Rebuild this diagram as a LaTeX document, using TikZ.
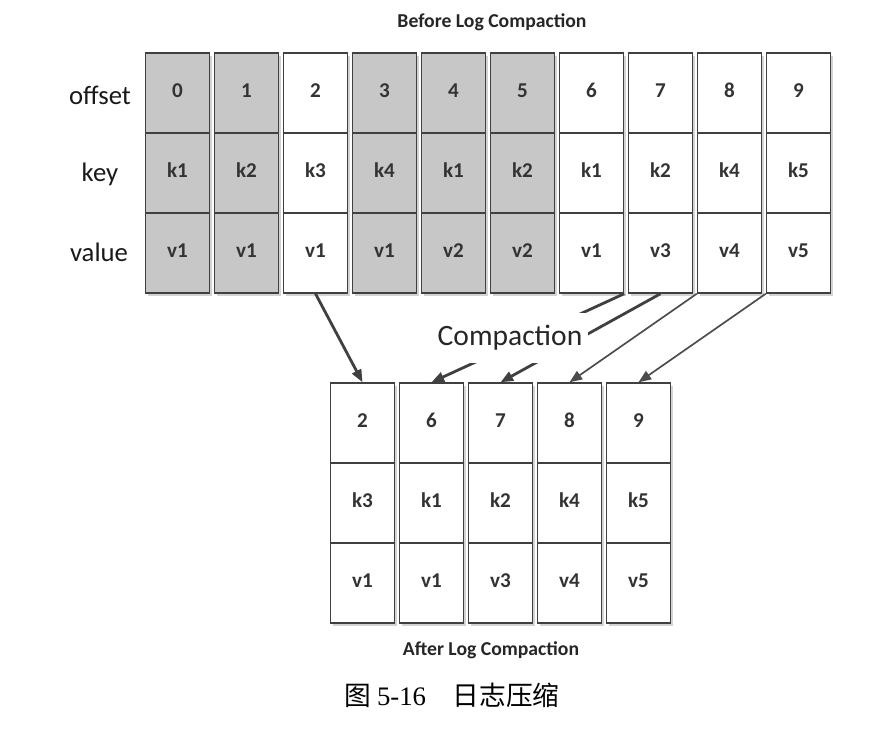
\documentclass[tikz,border=0pt]{standalone}
\usepackage{fontspec}
\setmainfont{Carlito}
\newfontfamily\cjk{Noto Sans CJK SC}
\newfontfamily\capnum{Liberation Serif}
\usetikzlibrary{arrows.meta,shadows,positioning}

\begin{document}
\begin{tikzpicture}[x=0.025cm,y=-0.025cm,
	cell/.style={draw=black!75, line width=1pt, minimum width=1.6cm, minimum height=2cm, inner sep=0pt,
		text height=1.5ex, text depth=0.2ex,
		font=\fontsize{15pt}{17pt}\selectfont\bfseries, text=black!80,
		drop shadow={opacity=0.35, shadow xshift=1.5pt, shadow yshift=-2pt}},
	old/.style={cell, fill=black!22},
	kept/.style={cell, fill=white},
	rowlbl/.style={font=\fontsize{19pt}{22pt}\selectfont, text=black!90},
	title/.style={font=\fontsize{14pt}{16pt}\selectfont\bfseries, text=black!85},
	conn/.style={draw=black!75, line width=2pt, -{Triangle[length=9pt,width=7pt]}},
	thinconn/.style={draw=black!70, line width=1.2pt, -{Triangle[length=9pt,width=7pt]}}]
	
	% 画布大小
	\useasboundingbox (0,0) rectangle (880,736);
	
	% 压缩前的日志
	\node[title] (before) at (492,22) {Before Log Compaction};
	\foreach \o/\k/\v/\st [count=\i from 0] in {0/k1/v1/old, 1/k2/v1/old, 2/k3/v1/kept, 3/k4/v1/old, 4/k1/v2/old,
		5/k2/v2/old, 6/k1/v1/kept, 7/k2/v3/kept, 8/k4/v4/kept, 9/k5/v5/kept}{
		\node[\st] (to\i) at (177.5+69*\i,93) {\o}; % offset 行
		\node[\st] (tk\i) at (177.5+69*\i,173) {\k}; % key 行
		\node[\st] (tv\i) at (177.5+69*\i,253) {\v}; % value 行
	}
	
	% 行标题
	\node[rowlbl] (lbl-offset) at (100,95) {offset};
	\node[rowlbl] (lbl-key) at (100,174) {key};
	\node[rowlbl] (lbl-value) at (99,252) {value};
	
	% 压缩后的日志
	\foreach \o/\k/\v [count=\j from 0] in {2/k3/v1, 6/k1/v1, 7/k2/v3, 8/k4/v4, 9/k5/v5}{
		\node[kept] (bo\j) at (362.5+69*\j,423) {\o};
		\node[kept] (bk\j) at (362.5+69*\j,503) {\k};
		\node[kept] (bv\j) at (362.5+69*\j,583) {\v};
	}
	\node[title] (after) at (491,650) {After Log Compaction};
	
	% 箭头
	\draw[conn] (tv2.south) -- (bo0.north);
	\draw[conn] (tv6.south east) -- (bo1.north);
	\draw[conn] (tv7.south) -- (bo2.north);
	\draw[thinconn] (tv8.south west) -- (bo3.north);
	\draw[thinconn] (tv9.south west) -- (bo4.north);
	\node[fill=white, inner xsep=4pt, inner ysep=9pt, font=\fontsize{21pt}{25pt}\selectfont, text=black!85] (compact) at (510,338) {Compaction};
	
	% 图题
	\node[font=\fontsize{19pt}{22pt}\selectfont] (caption) at (452,695) {{\cjk 图} {\capnum 5-16}\quad{\cjk 日志压缩}};
	
\end{tikzpicture}
\end{document}
